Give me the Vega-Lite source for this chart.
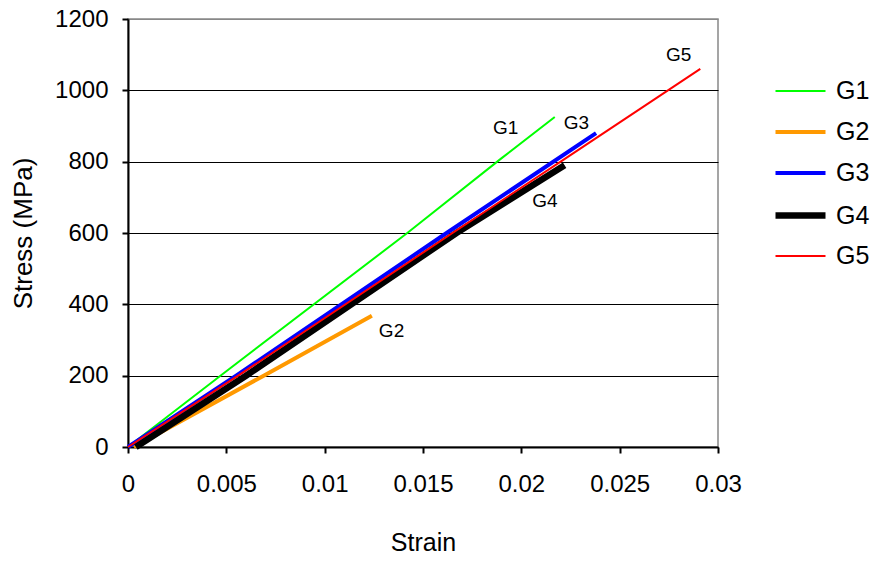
{
  "$schema": "https://vega.github.io/schema/vega-lite/v6.json",
  "width": 590,
  "height": 428,
  "autosize": {"type": "none"},
  "padding": {"left": 128, "top": 19, "right": 154, "bottom": 116},
  "background": "white",
  "config": {
    "font": "Liberation Sans",
    "view": {"stroke": "#888888", "strokeWidth": 1.5}
  },
  "datasets": {
    "curves": [
      {"specimen": "G1", "strain": 0.0, "stress": 0},
      {"specimen": "G1", "strain": 0.0047, "stress": 200},
      {"specimen": "G1", "strain": 0.0142, "stress": 600},
      {"specimen": "G1", "strain": 0.0190, "stress": 810},
      {"specimen": "G1", "strain": 0.0217, "stress": 925},
      {"specimen": "G2", "strain": 0.0003, "stress": 0},
      {"specimen": "G2", "strain": 0.0069, "stress": 200},
      {"specimen": "G2", "strain": 0.0124, "stress": 368},
      {"specimen": "G3", "strain": 0.0, "stress": 0},
      {"specimen": "G3", "strain": 0.0055, "stress": 200},
      {"specimen": "G3", "strain": 0.0162, "stress": 600},
      {"specimen": "G3", "strain": 0.0238, "stress": 880},
      {"specimen": "G4", "strain": 0.0004, "stress": 0},
      {"specimen": "G4", "strain": 0.0060, "stress": 200},
      {"specimen": "G4", "strain": 0.0167, "stress": 600},
      {"specimen": "G4", "strain": 0.0222, "stress": 790},
      {"specimen": "G5", "strain": 0.0, "stress": 0},
      {"specimen": "G5", "strain": 0.0056, "stress": 200},
      {"specimen": "G5", "strain": 0.0165, "stress": 600},
      {"specimen": "G5", "strain": 0.0220, "stress": 800},
      {"specimen": "G5", "strain": 0.0291, "stress": 1060}
    ],
    "labels": [
      {"label": "G1", "strain": 0.0192, "stress": 894},
      {"label": "G3", "strain": 0.0228, "stress": 908},
      {"label": "G4", "strain": 0.0212, "stress": 690},
      {"label": "G2", "strain": 0.0134, "stress": 325},
      {"label": "G5", "strain": 0.0280, "stress": 1099}
    ]
  },
  "layer": [
    {
      "data": {"name": "curves"},
      "mark": {"type": "line", "clip": false},
      "encoding": {
        "x": {
          "field": "strain", "type": "quantitative",
          "scale": {"domain": [0, 0.03], "nice": false},
          "axis": {
            "title": "Strain", "values": [0, 0.005, 0.01, 0.015, 0.02, 0.025, 0.03],
            "format": "~g", "grid": false, "labelFlush": false,
            "domainColor": "black", "domainWidth": 2, "tickColor": "black", "tickWidth": 2, "tickSize": 6,
            "labelFontSize": 24, "labelColor": "black", "labelPadding": 19,
            "titleFontSize": 25, "titleFontWeight": "normal", "titleColor": "black", "titlePadding": 34
          }
        },
        "y": {
          "field": "stress", "type": "quantitative",
          "scale": {"domain": [0, 1200], "nice": false},
          "axis": {
            "title": "Stress (MPa)", "values": [0, 200, 400, 600, 800, 1000, 1200],
            "format": "d", "labelFlush": false,
            "grid": true,
            "gridColor": {"condition": {"test": "datum.value >= 1200", "value": "#888888"}, "value": "black"},
            "gridWidth": 1,
            "domainColor": "black", "domainWidth": 2, "tickColor": "black", "tickWidth": 2, "tickSize": 6,
            "labelFontSize": 24, "labelColor": "black", "labelPadding": 14,
            "titleFontSize": 26, "titleFontWeight": "normal", "titleColor": "black", "titlePadding": 18
          }
        },
        "order": {"field": "strain", "type": "quantitative"},
        "color": {
          "field": "specimen", "type": "nominal",
          "scale": {"domain": ["G1", "G2", "G3", "G4", "G5"], "range": ["#00ff00", "#ff9900", "#0000ff", "#000000", "#ff0000"]},
          "legend": {
            "title": null, "orient": "none", "legendX": 644, "legendY": 46,
            "symbolType": "stroke", "symbolSize": 2500, "labelFontSize": 25, "labelColor": "black",
            "labelOffset": 7, "rowPadding": 1
          }
        },
        "strokeWidth": {
          "field": "specimen", "type": "nominal",
          "scale": {"type": "ordinal", "domain": ["G1", "G2", "G3", "G4", "G5"], "range": [2, 4, 4, 6.5, 2]},
          "legend": {
            "title": null, "orient": "none", "legendX": 644, "legendY": 46,
            "symbolType": "stroke", "symbolSize": 2500, "labelFontSize": 25, "labelColor": "black",
            "labelOffset": 7, "rowPadding": 1
          }
        }
      }
    },
    {
      "data": {"name": "labels"},
      "mark": {"type": "text", "fontSize": 19, "color": "black", "align": "center", "baseline": "middle"},
      "encoding": {
        "x": {"field": "strain", "type": "quantitative"},
        "y": {"field": "stress", "type": "quantitative"},
        "text": {"field": "label"}
      }
    }
  ]
}
